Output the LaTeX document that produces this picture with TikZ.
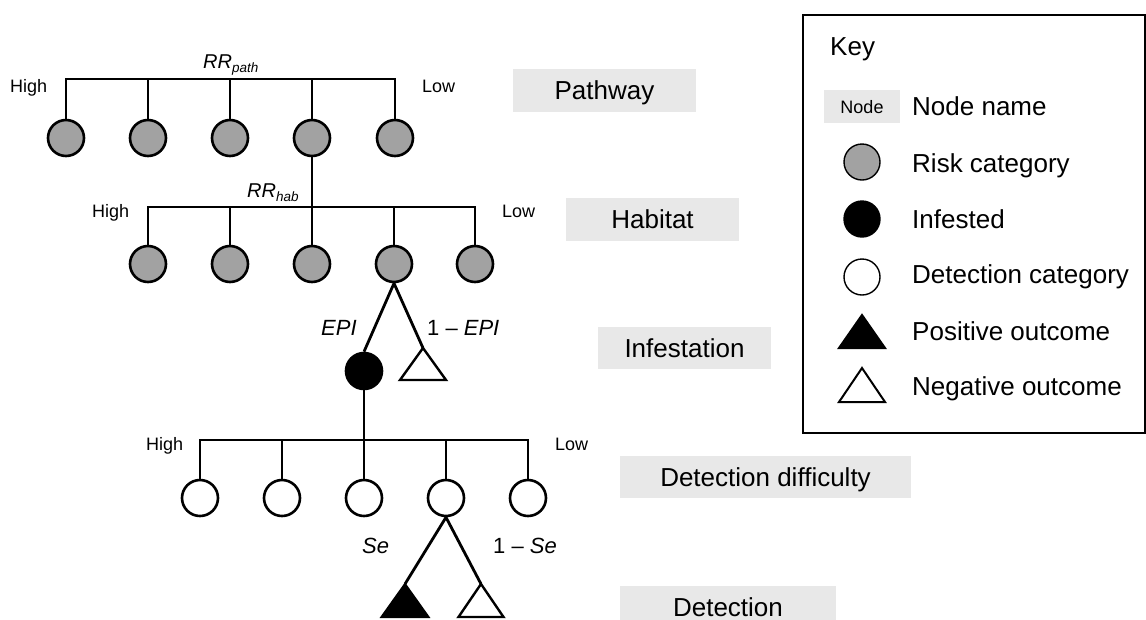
\documentclass[tikz,border=0pt]{standalone}
\usepackage{fontspec}
\setmainfont{Liberation Sans}
\definecolor{riskgray}{RGB}{162,162,162}
\definecolor{boxgray}{RGB}{232,232,232}
\begin{document}
\begin{tikzpicture}[x=1pt,y=-1pt,
  conn/.style={line width=2.8pt},
  risk/.style={circle,draw,line width=2.6pt,fill=riskgray,minimum size=36pt,inner sep=0pt},
  infested/.style={circle,draw,line width=2.6pt,fill=black,minimum size=36pt,inner sep=0pt},
  detcat/.style={circle,draw,line width=2.6pt,fill=white,minimum size=36pt,inner sep=0pt},
  postri/.style={fill=black,draw=black,line width=2pt,line join=miter},
  negtri/.style={fill=white,draw=black,line width=2.4pt,line join=miter},
  small/.style={font=\fontsize{18}{21}\selectfont,inner sep=0pt},
  prob/.style={font=\fontsize{22}{26}\selectfont\itshape,inner sep=0pt},
  big/.style={font=\fontsize{26}{30}\selectfont,inner sep=0pt},
  lvl/.style={fill=boxgray,font=\fontsize{26}{30}\selectfont,inner sep=0pt,text height=18.6pt,text depth=0pt,minimum height=43pt},
  keycirc/.style={circle,draw,line width=1.4pt,minimum size=36pt,inner sep=0pt},
]
\useasboundingbox (0,0) rectangle (1146,619);

% ---------- Pathway level ----------
\coordinate (barP) at (0,79);
\foreach \i/\x in {1/66,2/148,3/230,4/312,5/395}
  \node[risk] (p\i) at (\x,138) {};
\draw[conn] (p1.north) |- (barP -| p5) -- (p5.north);
\foreach \i in {2,3,4} \draw[conn] (p\i.north) -- (p\i |- barP);
\node[small,anchor=base west] (hiP) at (10,92) {High};
\node[small,anchor=base west] (loP) at (422,92) {Low};
\node[anchor=base west,inner sep=0pt] (rrP) at (203,68)
  {\fontsize{20}{24}\selectfont\itshape RR\raisebox{-4pt}{\fontsize{13.5}{15}\selectfont path}};

% ---------- Habitat level ----------
\coordinate (barH) at (0,207);
\foreach \i/\x in {1/148,2/230,3/312,4/394,5/475}
  \node[risk] (h\i) at (\x,264) {};
\draw[conn] (h1.north) |- (barH -| h5) -- (h5.north);
\foreach \i in {2,4} \draw[conn] (h\i.north) -- (h\i |- barH);
\draw[conn] (p4.south) -- (h3.north);
\node[small,anchor=base west] (hiH) at (92,217) {High};
\node[small,anchor=base west] (loH) at (502,217) {Low};
\node[anchor=base west,inner sep=0pt] (rrH) at (247,197)
  {\fontsize{20}{24}\selectfont\itshape RR\raisebox{-4pt}{\fontsize{13.5}{15}\selectfont hab}};

% ---------- Infestation ----------
\node[infested] (inf) at (364,371) {};
\coordinate (neg1) at (423,348);
\draw[conn] (h4.south) -- (inf.north);
\draw[conn] (h4.south) -- (neg1);
\draw[negtri] (neg1) -- ++(-23,32) -- ++(46,0) -- cycle;
\node[prob,anchor=base west] (epi) at (321,335) {EPI};
\node[prob,anchor=base west] (nepi) at (427,335) {\upshape 1 -- \itshape EPI};

% ---------- Detection difficulty ----------
\coordinate (barD) at (0,440);
\foreach \i/\x in {1/200,2/282,3/364,4/446,5/528}
  \node[detcat] (d\i) at (\x,498) {};
\draw[conn] (d1.north) |- (barD -| d5) -- (d5.north);
\foreach \i in {2,4} \draw[conn] (d\i.north) -- (d\i |- barD);
\draw[conn] (inf.south) -- (d3.north);
\node[small,anchor=base west] (hiD) at (146,450) {High};
\node[small,anchor=base west] (loD) at (555,450) {Low};

% ---------- Detection ----------
\coordinate (pos2) at (405,584);
\coordinate (neg2) at (481,584);
\draw[conn] (d4.south) -- (pos2);
\draw[conn] (d4.south) -- (neg2);
\draw[postri] (pos2) -- ++(-23.5,33) -- ++(47,0) -- cycle;
\draw[negtri] (neg2) -- ++(-22.5,33) -- ++(45,0) -- cycle;
\node[prob,anchor=base west] (se) at (362,553) {Se};
\node[prob,anchor=base west] (nse) at (493,553) {\upshape 1 -- \itshape Se};

% ---------- Level labels ----------
\node[lvl,minimum width=183pt] (lPath) at (604.5,90.5) {Pathway};
\node[lvl,minimum width=173pt] (lHab) at (652.5,219.5) {Habitat};
\node[lvl,minimum width=173pt,minimum height=42pt] (lInf) at (684.5,348) {Infestation};
\node[lvl,minimum width=291pt,minimum height=42pt] (lDD) at (765.5,477) {Detection difficulty};
\node[lvl,minimum width=216pt,minimum height=43pt] (lDet) at (728,607) {Detection};

% ---------- Key ----------
\node[draw,line width=1.4pt,minimum width=342pt,minimum height=418pt,inner sep=0pt] (key) at (974,224) {};
\node[big,anchor=base west] (keyt) at (830,55) {Key};
\node[fill=boxgray,minimum width=76pt,minimum height=33pt,inner sep=0pt,
      font=\fontsize{18}{21}\selectfont,text height=13pt,text depth=0pt] (kNode) at (862,106.5) {Node};
\node[big,anchor=base west] (kNodeT) at (912,115) {Node name};
\node[keycirc,fill=riskgray] (kRisk) at (862,162) {};
\node[big,anchor=base west] (kRiskT) at (912,172) {Risk category};
\node[keycirc,fill=black] (kInf) at (862,219) {};
\node[big,anchor=base west] (kInfT) at (912,228) {Infested};
\node[keycirc,fill=white] (kDet) at (862,277) {};
\node[big,anchor=base west] (kDetT) at (912,283) {Detection category};
\coordinate (kPos) at (862,315);
\draw[postri] (kPos) -- ++(-23,33) -- ++(46,0) -- cycle;
\node[big,anchor=base west] (kPosT) at (912,340) {Positive outcome};
\coordinate (kNeg) at (862,368);
\draw[negtri,line width=2pt] (kNeg) -- ++(-23,34) -- ++(46,0) -- cycle;
\node[big,anchor=base west] (kNegT) at (912,395) {Negative outcome};
\end{tikzpicture}
\end{document}
